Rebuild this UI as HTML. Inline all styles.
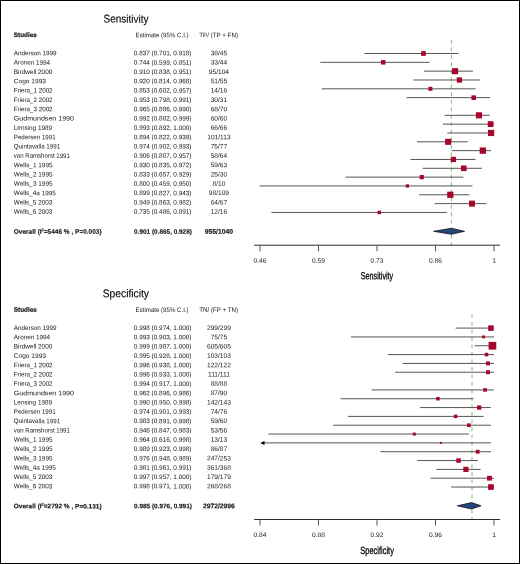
<!DOCTYPE html>
<html><head><meta charset="utf-8"><style>
html,body{margin:0;padding:0;background:#fff;}
body{width:520px;height:564px;overflow:hidden;position:relative;}
#f{position:absolute;left:0;top:0;width:518px;height:562px;border:1px solid #000;}
svg{position:absolute;left:0;top:0;will-change:transform;}
text{font-family:"Liberation Sans",sans-serif;text-rendering:geometricPrecision;}
</style></head><body><div id="f"></div>
<svg width="520" height="564" viewBox="0 0 520 564">
<line x1="451.35" y1="36.00" x2="451.35" y2="245.20" stroke="#80bd63" stroke-width="1" stroke-dasharray="3.8 3.7" stroke-dashoffset="3.6"/>
<line x1="364.53" y1="53.50" x2="458.57" y2="53.50" stroke="#555" stroke-width="1"/>
<line x1="320.33" y1="62.33" x2="429.53" y2="62.33" stroke="#555" stroke-width="1"/>
<line x1="423.90" y1="71.16" x2="472.87" y2="71.16" stroke="#555" stroke-width="1"/>
<line x1="413.50" y1="79.99" x2="480.23" y2="79.99" stroke="#555" stroke-width="1"/>
<line x1="321.63" y1="88.82" x2="475.47" y2="88.82" stroke="#555" stroke-width="1"/>
<line x1="406.57" y1="97.65" x2="490.20" y2="97.65" stroke="#555" stroke-width="1"/>
<line x1="444.70" y1="115.31" x2="489.77" y2="115.31" stroke="#555" stroke-width="1"/>
<line x1="442.97" y1="124.14" x2="493.67" y2="124.14" stroke="#555" stroke-width="1"/>
<line x1="447.30" y1="132.97" x2="494.10" y2="132.97" stroke="#555" stroke-width="1"/>
<line x1="416.97" y1="141.80" x2="467.67" y2="141.80" stroke="#555" stroke-width="1"/>
<line x1="451.63" y1="150.63" x2="491.07" y2="150.63" stroke="#555" stroke-width="1"/>
<line x1="410.47" y1="159.46" x2="475.47" y2="159.46" stroke="#555" stroke-width="1"/>
<line x1="422.60" y1="168.29" x2="481.97" y2="168.29" stroke="#555" stroke-width="1"/>
<line x1="345.47" y1="177.12" x2="463.33" y2="177.12" stroke="#555" stroke-width="1"/>
<line x1="259.67" y1="185.95" x2="472.43" y2="185.95" stroke="#555" stroke-width="1"/>
<line x1="419.13" y1="194.78" x2="469.40" y2="194.78" stroke="#555" stroke-width="1"/>
<line x1="434.73" y1="203.61" x2="486.30" y2="203.61" stroke="#555" stroke-width="1"/>
<line x1="271.37" y1="212.44" x2="446.87" y2="212.44" stroke="#555" stroke-width="1"/>
<rect x="421.12" y="51.15" width="4.70" height="4.70" fill="#a6052c"/>
<rect x="380.92" y="60.08" width="4.50" height="4.50" fill="#a6052c"/>
<rect x="452.05" y="68.11" width="6.10" height="6.10" fill="#a6052c"/>
<rect x="456.78" y="77.34" width="5.30" height="5.30" fill="#a6052c"/>
<rect x="428.40" y="86.82" width="4.00" height="4.00" fill="#a6052c"/>
<rect x="471.43" y="95.35" width="4.60" height="4.60" fill="#a6052c"/>
<rect x="475.88" y="112.26" width="6.10" height="6.10" fill="#a6052c"/>
<rect x="487.73" y="121.24" width="5.80" height="5.80" fill="#a6052c"/>
<rect x="487.97" y="129.87" width="6.20" height="6.20" fill="#a6052c"/>
<rect x="445.12" y="138.75" width="6.10" height="6.10" fill="#a6052c"/>
<rect x="479.68" y="147.48" width="6.30" height="6.30" fill="#a6052c"/>
<rect x="450.72" y="156.81" width="5.30" height="5.30" fill="#a6052c"/>
<rect x="460.97" y="165.49" width="5.60" height="5.60" fill="#a6052c"/>
<rect x="419.63" y="175.02" width="4.20" height="4.20" fill="#a6052c"/>
<rect x="405.78" y="184.30" width="3.30" height="3.30" fill="#a6052c"/>
<rect x="447.23" y="191.68" width="6.20" height="6.20" fill="#a6052c"/>
<rect x="469.00" y="200.61" width="6.00" height="6.00" fill="#a6052c"/>
<rect x="377.52" y="210.69" width="3.50" height="3.50" fill="#a6052c"/>
<path d="M433.60 231.30 L451.30 228.30 L464.60 231.30 L451.30 234.30 Z" fill="#23467d" stroke="#000" stroke-width="0.7"/>
<line x1="254.2" y1="245.20" x2="500" y2="245.20" stroke="#2a2a2a" stroke-width="1"/>
<line x1="260.00" y1="245.20" x2="260.00" y2="251.20" stroke="#555" stroke-width="1"/>
<line x1="318.50" y1="245.20" x2="318.50" y2="251.20" stroke="#555" stroke-width="1"/>
<line x1="377.00" y1="245.20" x2="377.00" y2="251.20" stroke="#555" stroke-width="1"/>
<line x1="435.50" y1="245.20" x2="435.50" y2="251.20" stroke="#555" stroke-width="1"/>
<line x1="494.00" y1="245.20" x2="494.00" y2="251.20" stroke="#555" stroke-width="1"/>
<line x1="472.00" y1="310.60" x2="472.00" y2="519.50" stroke="#80bd63" stroke-width="1" stroke-dasharray="3.8 3.7" stroke-dashoffset="3.6"/>
<line x1="455.58" y1="328.10" x2="493.90" y2="328.10" stroke="#555" stroke-width="1"/>
<line x1="350.95" y1="336.93" x2="493.90" y2="336.93" stroke="#555" stroke-width="1"/>
<line x1="474.74" y1="345.76" x2="493.90" y2="345.76" stroke="#555" stroke-width="1"/>
<line x1="387.79" y1="354.59" x2="493.90" y2="354.59" stroke="#555" stroke-width="1"/>
<line x1="402.53" y1="363.42" x2="493.90" y2="363.42" stroke="#555" stroke-width="1"/>
<line x1="395.16" y1="372.25" x2="493.90" y2="372.25" stroke="#555" stroke-width="1"/>
<line x1="371.58" y1="389.91" x2="493.90" y2="389.91" stroke="#555" stroke-width="1"/>
<line x1="340.63" y1="398.74" x2="473.27" y2="398.74" stroke="#555" stroke-width="1"/>
<line x1="420.21" y1="407.57" x2="490.95" y2="407.57" stroke="#555" stroke-width="1"/>
<line x1="348.00" y1="416.40" x2="483.58" y2="416.40" stroke="#555" stroke-width="1"/>
<line x1="333.26" y1="425.23" x2="490.95" y2="425.23" stroke="#555" stroke-width="1"/>
<line x1="268.42" y1="434.06" x2="468.85" y2="434.06" stroke="#555" stroke-width="1"/>
<line x1="263" y1="442.89" x2="490.95" y2="442.89" stroke="#555" stroke-width="1"/>
<path d="M260.2 442.89 L264.5 440.89 L264.5 444.89 Z" fill="#000"/>
<line x1="380.42" y1="451.72" x2="490.95" y2="451.72" stroke="#555" stroke-width="1"/>
<line x1="417.26" y1="460.55" x2="477.69" y2="460.55" stroke="#555" stroke-width="1"/>
<line x1="436.42" y1="469.38" x2="480.64" y2="469.38" stroke="#555" stroke-width="1"/>
<line x1="430.53" y1="478.21" x2="493.90" y2="478.21" stroke="#555" stroke-width="1"/>
<line x1="451.16" y1="487.04" x2="493.90" y2="487.04" stroke="#555" stroke-width="1"/>
<rect x="488.20" y="325.35" width="5.50" height="5.50" fill="#a6052c"/>
<rect x="482.13" y="335.48" width="2.90" height="2.90" fill="#a6052c"/>
<rect x="488.58" y="341.91" width="7.70" height="7.70" fill="#a6052c"/>
<rect x="484.73" y="352.79" width="3.60" height="3.60" fill="#a6052c"/>
<rect x="486.00" y="361.42" width="4.00" height="4.00" fill="#a6052c"/>
<rect x="486.00" y="370.25" width="4.00" height="4.00" fill="#a6052c"/>
<rect x="483.26" y="388.11" width="3.60" height="3.60" fill="#a6052c"/>
<rect x="436.15" y="396.99" width="3.50" height="3.50" fill="#a6052c"/>
<rect x="477.01" y="405.42" width="4.30" height="4.30" fill="#a6052c"/>
<rect x="453.83" y="414.65" width="3.50" height="3.50" fill="#a6052c"/>
<rect x="467.00" y="423.38" width="3.70" height="3.70" fill="#a6052c"/>
<rect x="412.82" y="432.56" width="3.00" height="3.00" fill="#a6052c"/>
<rect x="439.84" y="441.89" width="2.00" height="2.00" fill="#a6052c"/>
<rect x="475.79" y="449.82" width="3.80" height="3.80" fill="#a6052c"/>
<rect x="456.28" y="458.30" width="4.50" height="4.50" fill="#a6052c"/>
<rect x="463.30" y="466.78" width="5.20" height="5.20" fill="#a6052c"/>
<rect x="487.08" y="475.81" width="4.80" height="4.80" fill="#a6052c"/>
<rect x="488.10" y="484.19" width="5.70" height="5.70" fill="#a6052c"/>
<path d="M457.30 505.80 L471.50 502.60 L481.00 505.80 L471.50 509.00 Z" fill="#23467d" stroke="#000" stroke-width="0.7"/>
<line x1="254.2" y1="519.50" x2="500" y2="519.50" stroke="#2a2a2a" stroke-width="1"/>
<line x1="260.00" y1="519.50" x2="260.00" y2="525.50" stroke="#555" stroke-width="1"/>
<line x1="318.50" y1="519.50" x2="318.50" y2="525.50" stroke="#555" stroke-width="1"/>
<line x1="377.00" y1="519.50" x2="377.00" y2="525.50" stroke="#555" stroke-width="1"/>
<line x1="435.50" y1="519.50" x2="435.50" y2="525.50" stroke="#555" stroke-width="1"/>
<line x1="494.00" y1="519.50" x2="494.00" y2="525.50" stroke="#555" stroke-width="1"/>
</svg>
<svg class="t" width="520" height="564" viewBox="0 0 520 564">
<g>
<text transform="rotate(0.08 103.5 22.60)" x="103.5" y="22.60" font-size="11.3" fill="#000" stroke="#000" stroke-width="0.12" textLength="45.0" lengthAdjust="spacingAndGlyphs">Sensitivity</text>
<text transform="rotate(0.08 13.8 37.10)" x="13.8" y="37.10" font-size="6.5" font-weight="bold" fill="#151515" stroke="#151515" stroke-width="0.2" textLength="23.1" lengthAdjust="spacingAndGlyphs">Studies</text>
<text transform="rotate(0.08 135.6 37.30)" x="135.6" y="37.30" font-size="6.5" fill="#151515" textLength="53" lengthAdjust="spacingAndGlyphs">Estimate (95% C.I.)</text>
<text transform="rotate(0.08 218.6 37.30)" x="218.6" y="37.30" font-size="6.5" fill="#151515" text-anchor="middle" textLength="38.8" lengthAdjust="spacingAndGlyphs">TP/ (TP + FN)</text>
<text transform="rotate(0.08 13.8 55.30)" x="13.8" y="55.30" font-size="6.5" fill="#151515" textLength="42.80" lengthAdjust="spacingAndGlyphs">Anderson 1999</text>
<text transform="rotate(0.08 133.8 55.30)" x="133.8" y="55.30" font-size="6.5" fill="#151515" textLength="57.7" lengthAdjust="spacingAndGlyphs">0.837 (0.701, 0.918)</text>
<text transform="rotate(0.08 218.9 55.30)" x="218.9" y="55.30" font-size="6.6" fill="#151515" text-anchor="middle">38/45</text>
<text transform="rotate(0.08 13.8 64.62)" x="13.8" y="64.62" font-size="6.5" fill="#151515" textLength="36.30" lengthAdjust="spacingAndGlyphs">Aronen 1994</text>
<text transform="rotate(0.08 133.8 64.62)" x="133.8" y="64.62" font-size="6.5" fill="#151515" textLength="57.7" lengthAdjust="spacingAndGlyphs">0.744 (0.599, 0.851)</text>
<text transform="rotate(0.08 218.9 64.62)" x="218.9" y="64.62" font-size="6.6" fill="#151515" text-anchor="middle">33/44</text>
<text transform="rotate(0.08 13.8 73.94)" x="13.8" y="73.94" font-size="6.5" fill="#151515" textLength="38.50" lengthAdjust="spacingAndGlyphs">Birdwell 2000</text>
<text transform="rotate(0.08 133.8 73.94)" x="133.8" y="73.94" font-size="6.5" fill="#151515" textLength="57.7" lengthAdjust="spacingAndGlyphs">0.910 (0.838, 0.951)</text>
<text transform="rotate(0.08 218.9 73.94)" x="218.9" y="73.94" font-size="6.6" fill="#151515" text-anchor="middle">95/104</text>
<text transform="rotate(0.08 13.8 83.26)" x="13.8" y="83.26" font-size="6.5" fill="#151515" textLength="32.20" lengthAdjust="spacingAndGlyphs">Cogo 1993</text>
<text transform="rotate(0.08 133.8 83.26)" x="133.8" y="83.26" font-size="6.5" fill="#151515" textLength="57.7" lengthAdjust="spacingAndGlyphs">0.920 (0.814, 0.968)</text>
<text transform="rotate(0.08 218.9 83.26)" x="218.9" y="83.26" font-size="6.6" fill="#151515" text-anchor="middle">51/55</text>
<text transform="rotate(0.08 13.8 92.58)" x="13.8" y="92.58" font-size="6.5" fill="#151515" textLength="38.80" lengthAdjust="spacingAndGlyphs">Friera_1 2002</text>
<text transform="rotate(0.08 133.8 92.58)" x="133.8" y="92.58" font-size="6.5" fill="#151515" textLength="57.7" lengthAdjust="spacingAndGlyphs">0.853 (0.602, 0.957)</text>
<text transform="rotate(0.08 218.9 92.58)" x="218.9" y="92.58" font-size="6.6" fill="#151515" text-anchor="middle">14/16</text>
<text transform="rotate(0.08 13.8 101.90)" x="13.8" y="101.90" font-size="6.5" fill="#151515" textLength="38.80" lengthAdjust="spacingAndGlyphs">Friera_2 2002</text>
<text transform="rotate(0.08 133.8 101.90)" x="133.8" y="101.90" font-size="6.5" fill="#151515" textLength="57.7" lengthAdjust="spacingAndGlyphs">0.953 (0.798, 0.991)</text>
<text transform="rotate(0.08 218.9 101.90)" x="218.9" y="101.90" font-size="6.6" fill="#151515" text-anchor="middle">30/31</text>
<text transform="rotate(0.08 13.8 111.22)" x="13.8" y="111.22" font-size="6.5" fill="#151515" textLength="38.80" lengthAdjust="spacingAndGlyphs">Friera_3 2002</text>
<text transform="rotate(0.08 133.8 111.22)" x="133.8" y="111.22" font-size="6.5" fill="#151515" textLength="57.7" lengthAdjust="spacingAndGlyphs">0.965 (0.886, 0.990)</text>
<text transform="rotate(0.08 218.9 111.22)" x="218.9" y="111.22" font-size="6.6" fill="#151515" text-anchor="middle">68/70</text>
<text transform="rotate(0.08 13.8 120.54)" x="13.8" y="120.54" font-size="6.5" fill="#151515" textLength="60.20" lengthAdjust="spacingAndGlyphs">Gudmundsen 1990</text>
<text transform="rotate(0.08 133.8 120.54)" x="133.8" y="120.54" font-size="6.5" fill="#151515" textLength="57.7" lengthAdjust="spacingAndGlyphs">0.992 (0.882, 0.999)</text>
<text transform="rotate(0.08 218.9 120.54)" x="218.9" y="120.54" font-size="6.6" fill="#151515" text-anchor="middle">60/60</text>
<text transform="rotate(0.08 13.8 129.86)" x="13.8" y="129.86" font-size="6.5" fill="#151515" textLength="38.30" lengthAdjust="spacingAndGlyphs">Lensing 1989</text>
<text transform="rotate(0.08 133.8 129.86)" x="133.8" y="129.86" font-size="6.5" fill="#151515" textLength="57.7" lengthAdjust="spacingAndGlyphs">0.993 (0.892, 1.000)</text>
<text transform="rotate(0.08 218.9 129.86)" x="218.9" y="129.86" font-size="6.6" fill="#151515" text-anchor="middle">66/66</text>
<text transform="rotate(0.08 13.8 139.18)" x="13.8" y="139.18" font-size="6.5" fill="#151515" textLength="41.80" lengthAdjust="spacingAndGlyphs">Pedersen 1991</text>
<text transform="rotate(0.08 133.8 139.18)" x="133.8" y="139.18" font-size="6.5" fill="#151515" textLength="57.7" lengthAdjust="spacingAndGlyphs">0.894 (0.822, 0.939)</text>
<text transform="rotate(0.08 218.9 139.18)" x="218.9" y="139.18" font-size="6.6" fill="#151515" text-anchor="middle">101/113</text>
<text transform="rotate(0.08 13.8 148.50)" x="13.8" y="148.50" font-size="6.5" fill="#151515" textLength="46.30" lengthAdjust="spacingAndGlyphs">Quintavalla 1991</text>
<text transform="rotate(0.08 133.8 148.50)" x="133.8" y="148.50" font-size="6.5" fill="#151515" textLength="57.7" lengthAdjust="spacingAndGlyphs">0.974 (0.902, 0.993)</text>
<text transform="rotate(0.08 218.9 148.50)" x="218.9" y="148.50" font-size="6.6" fill="#151515" text-anchor="middle">75/77</text>
<text transform="rotate(0.08 13.8 157.82)" x="13.8" y="157.82" font-size="6.5" fill="#151515" textLength="56.00" lengthAdjust="spacingAndGlyphs">van Ramshorst 1991</text>
<text transform="rotate(0.08 133.8 157.82)" x="133.8" y="157.82" font-size="6.5" fill="#151515" textLength="57.7" lengthAdjust="spacingAndGlyphs">0.906 (0.807, 0.957)</text>
<text transform="rotate(0.08 218.9 157.82)" x="218.9" y="157.82" font-size="6.6" fill="#151515" text-anchor="middle">58/64</text>
<text transform="rotate(0.08 13.8 167.14)" x="13.8" y="167.14" font-size="6.5" fill="#151515" textLength="38.80" lengthAdjust="spacingAndGlyphs">Wells_1 1995</text>
<text transform="rotate(0.08 133.8 167.14)" x="133.8" y="167.14" font-size="6.5" fill="#151515" textLength="57.7" lengthAdjust="spacingAndGlyphs">0.930 (0.835, 0.972)</text>
<text transform="rotate(0.08 218.9 167.14)" x="218.9" y="167.14" font-size="6.6" fill="#151515" text-anchor="middle">59/63</text>
<text transform="rotate(0.08 13.8 176.46)" x="13.8" y="176.46" font-size="6.5" fill="#151515" textLength="38.80" lengthAdjust="spacingAndGlyphs">Wells_2 1995</text>
<text transform="rotate(0.08 133.8 176.46)" x="133.8" y="176.46" font-size="6.5" fill="#151515" textLength="57.7" lengthAdjust="spacingAndGlyphs">0.833 (0.657, 0.929)</text>
<text transform="rotate(0.08 218.9 176.46)" x="218.9" y="176.46" font-size="6.6" fill="#151515" text-anchor="middle">25/30</text>
<text transform="rotate(0.08 13.8 185.78)" x="13.8" y="185.78" font-size="6.5" fill="#151515" textLength="38.80" lengthAdjust="spacingAndGlyphs">Wells_3 1995</text>
<text transform="rotate(0.08 133.8 185.78)" x="133.8" y="185.78" font-size="6.5" fill="#151515" textLength="57.7" lengthAdjust="spacingAndGlyphs">0.800 (0.459, 0.950)</text>
<text transform="rotate(0.08 218.9 185.78)" x="218.9" y="185.78" font-size="6.6" fill="#151515" text-anchor="middle">8/10</text>
<text transform="rotate(0.08 13.8 195.10)" x="13.8" y="195.10" font-size="6.5" fill="#151515" textLength="42.10" lengthAdjust="spacingAndGlyphs">Wells_4a 1995</text>
<text transform="rotate(0.08 133.8 195.10)" x="133.8" y="195.10" font-size="6.5" fill="#151515" textLength="57.7" lengthAdjust="spacingAndGlyphs">0.899 (0.827, 0.943)</text>
<text transform="rotate(0.08 218.9 195.10)" x="218.9" y="195.10" font-size="6.6" fill="#151515" text-anchor="middle">98/109</text>
<text transform="rotate(0.08 13.8 204.42)" x="13.8" y="204.42" font-size="6.5" fill="#151515" textLength="38.60" lengthAdjust="spacingAndGlyphs">Wells_5 2003</text>
<text transform="rotate(0.08 133.8 204.42)" x="133.8" y="204.42" font-size="6.5" fill="#151515" textLength="57.7" lengthAdjust="spacingAndGlyphs">0.949 (0.863, 0.982)</text>
<text transform="rotate(0.08 218.9 204.42)" x="218.9" y="204.42" font-size="6.6" fill="#151515" text-anchor="middle">64/67</text>
<text transform="rotate(0.08 13.8 213.74)" x="13.8" y="213.74" font-size="6.5" fill="#151515" textLength="38.60" lengthAdjust="spacingAndGlyphs">Wells_6 2003</text>
<text transform="rotate(0.08 133.8 213.74)" x="133.8" y="213.74" font-size="6.5" fill="#151515" textLength="57.7" lengthAdjust="spacingAndGlyphs">0.735 (0.486, 0.891)</text>
<text transform="rotate(0.08 218.9 213.74)" x="218.9" y="213.74" font-size="6.6" fill="#151515" text-anchor="middle">12/16</text>
<text transform="rotate(0.08 13.8 233.70)" x="13.8" y="233.70" font-size="6.6" font-weight="bold" fill="#151515" stroke="#151515" stroke-width="0.15" textLength="87.8" lengthAdjust="spacingAndGlyphs">Overall (I<tspan dy="-2.5" font-size="4">2</tspan><tspan dy="2.5">=5446 % , P=0.003)</tspan></text>
<text transform="rotate(0.08 134.1 233.70)" x="134.1" y="233.70" font-size="6.5" font-weight="bold" fill="#151515" stroke="#151515" stroke-width="0.15" textLength="57.8" lengthAdjust="spacingAndGlyphs">0.901 (0.865, 0.928)</text>
<text transform="rotate(0.08 218.9 233.70)" x="218.9" y="233.70" font-size="6.75" font-weight="bold" fill="#151515" stroke="#151515" stroke-width="0.15" text-anchor="middle">955/1040</text>
<text transform="rotate(0.08 260.00 262.70)" x="260.00" y="262.70" font-size="6.6" fill="#151515" text-anchor="middle">0.46</text>
<text transform="rotate(0.08 318.50 262.70)" x="318.50" y="262.70" font-size="6.6" fill="#151515" text-anchor="middle">0.59</text>
<text transform="rotate(0.08 377.00 262.70)" x="377.00" y="262.70" font-size="6.6" fill="#151515" text-anchor="middle">0.73</text>
<text transform="rotate(0.08 435.50 262.70)" x="435.50" y="262.70" font-size="6.6" fill="#151515" text-anchor="middle">0.86</text>
<text transform="rotate(0.08 494.00 262.70)" x="494.00" y="262.70" font-size="6.6" fill="#151515" text-anchor="middle">1</text>
<text transform="rotate(0.08 360.80 279.30)" x="360.80" y="279.30" font-size="10.3" fill="#000" stroke="#000" stroke-width="0.3" textLength="32.4" lengthAdjust="spacingAndGlyphs">Sensitivity</text>
<text transform="rotate(0.08 102.7 297.20)" x="102.7" y="297.20" font-size="11.3" fill="#000" stroke="#000" stroke-width="0.12" textLength="46.3" lengthAdjust="spacingAndGlyphs">Specificity</text>
<text transform="rotate(0.08 13.8 311.70)" x="13.8" y="311.70" font-size="6.5" font-weight="bold" fill="#151515" stroke="#151515" stroke-width="0.2" textLength="23.1" lengthAdjust="spacingAndGlyphs">Studies</text>
<text transform="rotate(0.08 135.6 311.90)" x="135.6" y="311.90" font-size="6.5" fill="#151515" textLength="53" lengthAdjust="spacingAndGlyphs">Estimate (95% C.I.)</text>
<text transform="rotate(0.08 218.6 311.90)" x="218.6" y="311.90" font-size="6.5" fill="#151515" text-anchor="middle" textLength="38.8" lengthAdjust="spacingAndGlyphs">TN/ (FP + TN)</text>
<text transform="rotate(0.08 13.8 329.90)" x="13.8" y="329.90" font-size="6.5" fill="#151515" textLength="42.80" lengthAdjust="spacingAndGlyphs">Anderson 1999</text>
<text transform="rotate(0.08 133.8 329.90)" x="133.8" y="329.90" font-size="6.5" fill="#151515" textLength="57.7" lengthAdjust="spacingAndGlyphs">0.998 (0.974, 1.000)</text>
<text transform="rotate(0.08 218.9 329.90)" x="218.9" y="329.90" font-size="6.6" fill="#151515" text-anchor="middle">299/299</text>
<text transform="rotate(0.08 13.8 339.22)" x="13.8" y="339.22" font-size="6.5" fill="#151515" textLength="36.30" lengthAdjust="spacingAndGlyphs">Aronen 1994</text>
<text transform="rotate(0.08 133.8 339.22)" x="133.8" y="339.22" font-size="6.5" fill="#151515" textLength="57.7" lengthAdjust="spacingAndGlyphs">0.993 (0.903, 1.000)</text>
<text transform="rotate(0.08 218.9 339.22)" x="218.9" y="339.22" font-size="6.6" fill="#151515" text-anchor="middle">75/75</text>
<text transform="rotate(0.08 13.8 348.54)" x="13.8" y="348.54" font-size="6.5" fill="#151515" textLength="38.50" lengthAdjust="spacingAndGlyphs">Birdwell 2000</text>
<text transform="rotate(0.08 133.8 348.54)" x="133.8" y="348.54" font-size="6.5" fill="#151515" textLength="57.7" lengthAdjust="spacingAndGlyphs">0.999 (0.987, 1.000)</text>
<text transform="rotate(0.08 218.9 348.54)" x="218.9" y="348.54" font-size="6.6" fill="#151515" text-anchor="middle">605/605</text>
<text transform="rotate(0.08 13.8 357.86)" x="13.8" y="357.86" font-size="6.5" fill="#151515" textLength="32.20" lengthAdjust="spacingAndGlyphs">Cogo 1993</text>
<text transform="rotate(0.08 133.8 357.86)" x="133.8" y="357.86" font-size="6.5" fill="#151515" textLength="57.7" lengthAdjust="spacingAndGlyphs">0.995 (0.928, 1.000)</text>
<text transform="rotate(0.08 218.9 357.86)" x="218.9" y="357.86" font-size="6.6" fill="#151515" text-anchor="middle">103/103</text>
<text transform="rotate(0.08 13.8 367.18)" x="13.8" y="367.18" font-size="6.5" fill="#151515" textLength="38.80" lengthAdjust="spacingAndGlyphs">Friera_1 2002</text>
<text transform="rotate(0.08 133.8 367.18)" x="133.8" y="367.18" font-size="6.5" fill="#151515" textLength="57.7" lengthAdjust="spacingAndGlyphs">0.996 (0.938, 1.000)</text>
<text transform="rotate(0.08 218.9 367.18)" x="218.9" y="367.18" font-size="6.6" fill="#151515" text-anchor="middle">122/122</text>
<text transform="rotate(0.08 13.8 376.50)" x="13.8" y="376.50" font-size="6.5" fill="#151515" textLength="38.80" lengthAdjust="spacingAndGlyphs">Friera_2 2002</text>
<text transform="rotate(0.08 133.8 376.50)" x="133.8" y="376.50" font-size="6.5" fill="#151515" textLength="57.7" lengthAdjust="spacingAndGlyphs">0.996 (0.933, 1.000)</text>
<text transform="rotate(0.08 218.9 376.50)" x="218.9" y="376.50" font-size="6.6" fill="#151515" text-anchor="middle">111/111</text>
<text transform="rotate(0.08 13.8 385.82)" x="13.8" y="385.82" font-size="6.5" fill="#151515" textLength="38.80" lengthAdjust="spacingAndGlyphs">Friera_3 2002</text>
<text transform="rotate(0.08 133.8 385.82)" x="133.8" y="385.82" font-size="6.5" fill="#151515" textLength="57.7" lengthAdjust="spacingAndGlyphs">0.994 (0.917, 1.000)</text>
<text transform="rotate(0.08 218.9 385.82)" x="218.9" y="385.82" font-size="6.6" fill="#151515" text-anchor="middle">88/88</text>
<text transform="rotate(0.08 13.8 395.14)" x="13.8" y="395.14" font-size="6.5" fill="#151515" textLength="60.20" lengthAdjust="spacingAndGlyphs">Gudmundsen 1990</text>
<text transform="rotate(0.08 133.8 395.14)" x="133.8" y="395.14" font-size="6.5" fill="#151515" textLength="57.7" lengthAdjust="spacingAndGlyphs">0.962 (0.896, 0.986)</text>
<text transform="rotate(0.08 218.9 395.14)" x="218.9" y="395.14" font-size="6.6" fill="#151515" text-anchor="middle">87/90</text>
<text transform="rotate(0.08 13.8 404.46)" x="13.8" y="404.46" font-size="6.5" fill="#151515" textLength="38.30" lengthAdjust="spacingAndGlyphs">Lensing 1989</text>
<text transform="rotate(0.08 133.8 404.46)" x="133.8" y="404.46" font-size="6.5" fill="#151515" textLength="57.7" lengthAdjust="spacingAndGlyphs">0.990 (0.950, 0.998)</text>
<text transform="rotate(0.08 218.9 404.46)" x="218.9" y="404.46" font-size="6.6" fill="#151515" text-anchor="middle">142/143</text>
<text transform="rotate(0.08 13.8 413.78)" x="13.8" y="413.78" font-size="6.5" fill="#151515" textLength="41.80" lengthAdjust="spacingAndGlyphs">Pedersen 1991</text>
<text transform="rotate(0.08 133.8 413.78)" x="133.8" y="413.78" font-size="6.5" fill="#151515" textLength="57.7" lengthAdjust="spacingAndGlyphs">0.974 (0.901, 0.993)</text>
<text transform="rotate(0.08 218.9 413.78)" x="218.9" y="413.78" font-size="6.6" fill="#151515" text-anchor="middle">74/76</text>
<text transform="rotate(0.08 13.8 423.10)" x="13.8" y="423.10" font-size="6.5" fill="#151515" textLength="46.30" lengthAdjust="spacingAndGlyphs">Quintavalla 1991</text>
<text transform="rotate(0.08 133.8 423.10)" x="133.8" y="423.10" font-size="6.5" fill="#151515" textLength="57.7" lengthAdjust="spacingAndGlyphs">0.983 (0.891, 0.998)</text>
<text transform="rotate(0.08 218.9 423.10)" x="218.9" y="423.10" font-size="6.6" fill="#151515" text-anchor="middle">59/60</text>
<text transform="rotate(0.08 13.8 432.42)" x="13.8" y="432.42" font-size="6.5" fill="#151515" textLength="56.00" lengthAdjust="spacingAndGlyphs">van Ramshorst 1991</text>
<text transform="rotate(0.08 133.8 432.42)" x="133.8" y="432.42" font-size="6.5" fill="#151515" textLength="57.7" lengthAdjust="spacingAndGlyphs">0.946 (0.847, 0.983)</text>
<text transform="rotate(0.08 218.9 432.42)" x="218.9" y="432.42" font-size="6.6" fill="#151515" text-anchor="middle">53/56</text>
<text transform="rotate(0.08 13.8 441.74)" x="13.8" y="441.74" font-size="6.5" fill="#151515" textLength="38.80" lengthAdjust="spacingAndGlyphs">Wells_1 1995</text>
<text transform="rotate(0.08 133.8 441.74)" x="133.8" y="441.74" font-size="6.5" fill="#151515" textLength="57.7" lengthAdjust="spacingAndGlyphs">0.964 (0.616, 0.998)</text>
<text transform="rotate(0.08 218.9 441.74)" x="218.9" y="441.74" font-size="6.6" fill="#151515" text-anchor="middle">13/13</text>
<text transform="rotate(0.08 13.8 451.06)" x="13.8" y="451.06" font-size="6.5" fill="#151515" textLength="38.80" lengthAdjust="spacingAndGlyphs">Wells_2 1995</text>
<text transform="rotate(0.08 133.8 451.06)" x="133.8" y="451.06" font-size="6.5" fill="#151515" textLength="57.7" lengthAdjust="spacingAndGlyphs">0.989 (0.923, 0.998)</text>
<text transform="rotate(0.08 218.9 451.06)" x="218.9" y="451.06" font-size="6.6" fill="#151515" text-anchor="middle">86/87</text>
<text transform="rotate(0.08 13.8 460.38)" x="13.8" y="460.38" font-size="6.5" fill="#151515" textLength="38.80" lengthAdjust="spacingAndGlyphs">Wells_3 1995</text>
<text transform="rotate(0.08 133.8 460.38)" x="133.8" y="460.38" font-size="6.5" fill="#151515" textLength="57.7" lengthAdjust="spacingAndGlyphs">0.976 (0.948, 0.989)</text>
<text transform="rotate(0.08 218.9 460.38)" x="218.9" y="460.38" font-size="6.6" fill="#151515" text-anchor="middle">247/253</text>
<text transform="rotate(0.08 13.8 469.70)" x="13.8" y="469.70" font-size="6.5" fill="#151515" textLength="42.10" lengthAdjust="spacingAndGlyphs">Wells_4a 1995</text>
<text transform="rotate(0.08 133.8 469.70)" x="133.8" y="469.70" font-size="6.5" fill="#151515" textLength="57.7" lengthAdjust="spacingAndGlyphs">0.981 (0.961, 0.991)</text>
<text transform="rotate(0.08 218.9 469.70)" x="218.9" y="469.70" font-size="6.6" fill="#151515" text-anchor="middle">361/368</text>
<text transform="rotate(0.08 13.8 479.02)" x="13.8" y="479.02" font-size="6.5" fill="#151515" textLength="38.60" lengthAdjust="spacingAndGlyphs">Wells_5 2003</text>
<text transform="rotate(0.08 133.8 479.02)" x="133.8" y="479.02" font-size="6.5" fill="#151515" textLength="57.7" lengthAdjust="spacingAndGlyphs">0.997 (0.957, 1.000)</text>
<text transform="rotate(0.08 218.9 479.02)" x="218.9" y="479.02" font-size="6.6" fill="#151515" text-anchor="middle">179/179</text>
<text transform="rotate(0.08 13.8 488.34)" x="13.8" y="488.34" font-size="6.5" fill="#151515" textLength="38.60" lengthAdjust="spacingAndGlyphs">Wells_6 2003</text>
<text transform="rotate(0.08 133.8 488.34)" x="133.8" y="488.34" font-size="6.5" fill="#151515" textLength="57.7" lengthAdjust="spacingAndGlyphs">0.998 (0.971, 1.000)</text>
<text transform="rotate(0.08 218.9 488.34)" x="218.9" y="488.34" font-size="6.6" fill="#151515" text-anchor="middle">268/268</text>
<text transform="rotate(0.08 13.8 508.30)" x="13.8" y="508.30" font-size="6.6" font-weight="bold" fill="#151515" stroke="#151515" stroke-width="0.15" textLength="87.8" lengthAdjust="spacingAndGlyphs">Overall (I<tspan dy="-2.5" font-size="4">2</tspan><tspan dy="2.5">=2792 % , P=0.131)</tspan></text>
<text transform="rotate(0.08 134.1 508.30)" x="134.1" y="508.30" font-size="6.5" font-weight="bold" fill="#151515" stroke="#151515" stroke-width="0.15" textLength="57.8" lengthAdjust="spacingAndGlyphs">0.985 (0.976, 0.991)</text>
<text transform="rotate(0.08 218.9 508.30)" x="218.9" y="508.30" font-size="6.75" font-weight="bold" fill="#151515" stroke="#151515" stroke-width="0.15" text-anchor="middle">2972/2996</text>
<text transform="rotate(0.08 260.00 536.90)" x="260.00" y="536.90" font-size="6.6" fill="#151515" text-anchor="middle">0.84</text>
<text transform="rotate(0.08 318.50 536.90)" x="318.50" y="536.90" font-size="6.6" fill="#151515" text-anchor="middle">0.88</text>
<text transform="rotate(0.08 377.00 536.90)" x="377.00" y="536.90" font-size="6.6" fill="#151515" text-anchor="middle">0.92</text>
<text transform="rotate(0.08 435.50 536.90)" x="435.50" y="536.90" font-size="6.6" fill="#151515" text-anchor="middle">0.96</text>
<text transform="rotate(0.08 494.00 536.90)" x="494.00" y="536.90" font-size="6.6" fill="#151515" text-anchor="middle">1</text>
<text transform="rotate(0.08 360.30 553.90)" x="360.30" y="553.90" font-size="10.5" fill="#000" stroke="#000" stroke-width="0.3" textLength="33.6" lengthAdjust="spacingAndGlyphs">Specificity</text>
</g>
</svg></body></html>
